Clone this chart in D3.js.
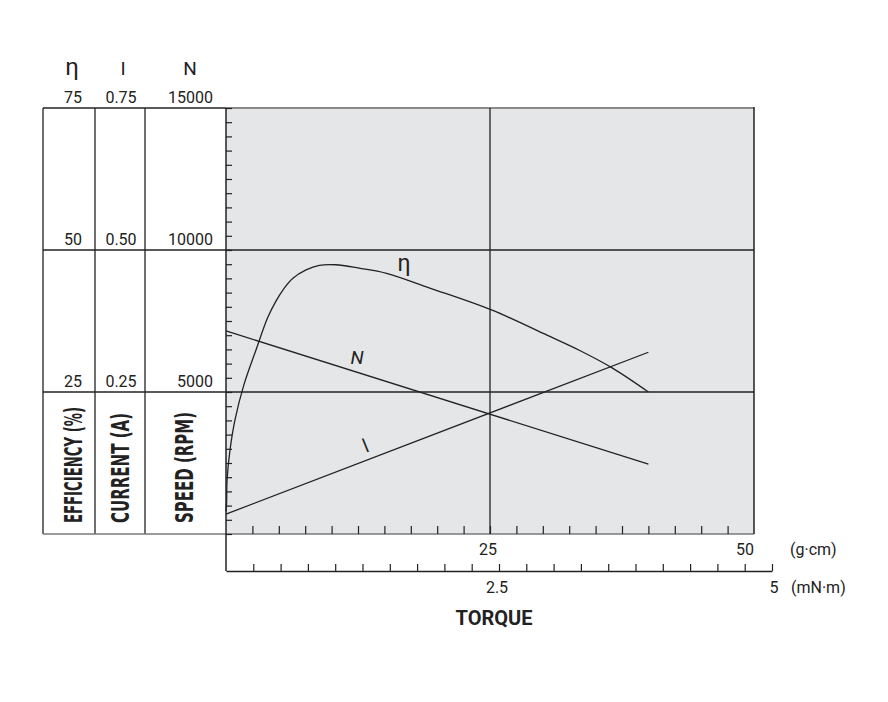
<!DOCTYPE html>
<html>
<head>
<meta charset="utf-8">
<script src="https://cdn.jsdelivr.net/npm/d3@7"></script>
<style>
  body { margin: 0; background: #fff; }
  svg { display: block; }
</style>
</head>
<body>
<svg id="chart" width="888" height="702"></svg>
<script>
// Motor characteristic curves (torque in g·cm)
const lineTorque = [0, 40];
const speedValues = [7150, 2460];      // N (rpm)
const currentValues = [0.035, 0.32];   // I (A)

const etaTorque = [0, 0.05, 0.1, 0.38, 0.85, 1.7, 2.84, 3.95, 4.73, 5.52, 6.31, 7.58, 8.84, 10.4, 12.6, 15.2, 19.3, 25.2, 30.4, 33.5, 36.6, 40];
const etaValues = [4, 5.1, 9.5, 14.8, 20.1, 26.3, 32.4, 38.1, 41.0, 43.3, 45.0, 46.5, 47.3, 47.4, 46.8, 45.9, 43.3, 39.4, 35.0, 32.3, 29.2, 25.0];

// scale labels for the left table
const etaTicks = [25, 50, 75];
const currentTicks = [0.25, 0.5, 0.75];
const speedTicks = [5000, 10000, 15000];
const gcmLabels = [25, 50];
const mnmLabels = [2.5, 5];

// Define style values
const ink = '#222';
const plotBg = '#e5e6e8';
const numFont = 'Roboto, "Liberation Sans", sans-serif';
const narrowBold = '"Liberation Sans Narrow", "DejaVu Sans Condensed", sans-serif';

const svg = d3.select('#chart');

const x = d3.scaleLinear().domain([0, 50]).range([226, 754]);
const xm = d3.scaleLinear().domain([0, 5]).range([226, 772]);
const yN = d3.scaleLinear().domain([0, 15000]).range([534, 108]);
const yEta = d3.scaleLinear().domain([0, 75]).range([534, 108]);
const yI = d3.scaleLinear().domain([0, 0.75]).range([534, 108]);

const tableLeft = 43;
const colX = [tableLeft, 95, 145];

// plot background
svg.append('rect')
  .attr('x', x(0)).attr('y', yN(15000))
  .attr('width', x(50) - x(0)).attr('height', yN(0) - yN(15000))
  .attr('fill', plotBg);

// table vertical lines
colX.forEach((cx) => {
  svg.append('line')
    .attr('x1', cx).attr('x2', cx)
    .attr('y1', yN(15000)).attr('y2', yN(0))
    .attr('stroke', ink).attr('stroke-width', 1.3);
});

// table top
svg.append('line')
  .attr('x1', tableLeft).attr('x2', x(0))
  .attr('y1', yN(15000)).attr('y2', yN(15000))
  .attr('stroke', ink).attr('stroke-width', 1.3);

// plot top (grey)
svg.append('line')
  .attr('x1', x(0)).attr('x2', x(50))
  .attr('y1', yN(15000)).attr('y2', yN(15000))
  .attr('stroke', '#8a8a8a').attr('stroke-width', 2);

// bottom line under table + plot
svg.append('line')
  .attr('x1', tableLeft).attr('x2', x(50))
  .attr('y1', yN(0)).attr('y2', yN(0))
  .attr('stroke', '#7a7a7a').attr('stroke-width', 1.6);

// horizontal rules at 5000 / 10000
[5000, 10000].forEach((v) => {
  svg.append('line')
    .attr('x1', tableLeft).attr('x2', x(50))
    .attr('y1', yN(v)).attr('y2', yN(v))
    .attr('stroke', ink).attr('stroke-width', 1.3);
});

// vertical rule at 25 g·cm
svg.append('line')
  .attr('x1', x(25)).attr('x2', x(25))
  .attr('y1', yN(15000)).attr('y2', yN(0))
  .attr('stroke', ink).attr('stroke-width', 1.3);

// right edge
svg.append('line')
  .attr('x1', x(50)).attr('x2', x(50))
  .attr('y1', yN(15000) - 1).attr('y2', yN(0))
  .attr('stroke', ink).attr('stroke-width', 1.5);

// left axis minor ticks (every 500 rpm)
const leftAxis = svg.append('g')
  .attr('transform', `translate(${x(0)},0)`)
  .call(d3.axisRight(yN).tickValues(d3.range(0, 15001, 500)).tickSize(6).tickFormat(''));
leftAxis.select('.domain').remove();
leftAxis.selectAll('line').attr('stroke', ink).attr('stroke-width', 1.2);

// g·cm ticks on plot bottom
const gAxis = svg.append('g')
  .attr('transform', `translate(0,${yN(0)})`)
  .call(d3.axisTop(x).tickValues(d3.range(2.5, 50, 2.5)).tickSize(8).tickFormat(''));
gAxis.select('.domain').remove();
gAxis.selectAll('line').attr('stroke', ink).attr('stroke-width', 1.2);

// mN·m axis below
const mAxis = svg.append('g')
  .attr('transform', 'translate(0,571)')
  .call(d3.axisTop(xm).tickValues(d3.range(0.25, 5.01, 0.25)).tickSize(7).tickSizeOuter(0).tickFormat(''));
mAxis.select('.domain').attr('stroke', ink).attr('stroke-width', 1.5);
mAxis.selectAll('line').attr('stroke', ink).attr('stroke-width', 1.2);

// left plot axis line (down to mN·m axis)
svg.append('line')
  .attr('x1', x(0)).attr('x2', x(0))
  .attr('y1', yN(15000)).attr('y2', 571)
  .attr('stroke', ink).attr('stroke-width', 1.5);

// curves
const lineGen = d3.line();
svg.append('path')
  .attr('d', lineGen(lineTorque.map((t, i) => [x(t), yN(speedValues[i])])))
  .attr('fill', 'none').attr('stroke', ink).attr('stroke-width', 1.3);
svg.append('path')
  .attr('d', lineGen(lineTorque.map((t, i) => [x(t), yI(currentValues[i])])))
  .attr('fill', 'none').attr('stroke', ink).attr('stroke-width', 1.3);
svg.append('path')
  .attr('d', d3.line().curve(d3.curveCatmullRom.alpha(0.5))(etaTorque.map((t, i) => [x(t), yEta(etaValues[i])])))
  .attr('fill', 'none').attr('stroke', ink).attr('stroke-width', 1.3);

// curve labels
svg.append('text').text('η')
  .attr('x', 404).attr('y', 271)
  .attr('text-anchor', 'middle')
  .attr('font-family', numFont).attr('font-size', 23).attr('fill', ink);
svg.append('text').text('N')
  .attr('x', 357).attr('y', 364)
  .attr('text-anchor', 'middle')
  .attr('font-family', numFont).attr('font-size', 19).attr('font-style', 'italic').attr('fill', ink);
svg.append('text').text('I')
  .attr('transform', 'translate(368,452) skewX(22)')
  .attr('text-anchor', 'middle')
  .attr('font-family', numFont).attr('font-size', 19).attr('fill', ink);

// header symbols
[['η', 72, 24], ['I', 123, 19], ['N', 190, 19]].forEach(([s, cx, fs]) => {
  svg.append('text').text(s)
    .attr('x', cx).attr('y', 75)
    .attr('text-anchor', 'middle')
    .attr('font-family', numFont).attr('font-size', fs).attr('fill', ink);
});

// table scale numbers
const numText = (txt, px, py, anchor) =>
  svg.append('text').text(txt)
    .attr('x', px).attr('y', py)
    .attr('text-anchor', anchor)
    .attr('font-family', numFont).attr('font-size', 16).attr('fill', ink);

speedTicks.forEach((v, i) => {
  const py = yN(v) - 5;
  numText(etaTicks[i], 73, py, 'middle');
  numText(currentTicks[i].toFixed(2), 121, py, 'middle');
  numText(v, 213, py, 'end');
});

// rotated column titles
[['EFFICIENCY (%)', 82, 116], ['CURRENT (A)', 129, 110], ['SPEED (RPM)', 193, 111]].forEach(([t, bx, len]) => {
  svg.append('text').text(t)
    .attr('transform', `translate(${bx},523) rotate(-90)`)
    .attr('textLength', len).attr('lengthAdjust', 'spacingAndGlyphs')
    .attr('font-family', narrowBold).attr('font-weight', 'bold')
    .attr('font-size', 24).attr('fill', ink);
});

// torque labels
gcmLabels.forEach((v) => {
  numText(v, v === 50 ? x(v) : x(v) - 2, 555, v === 50 ? 'end' : 'middle');
});
mnmLabels.forEach((v) => {
  numText(v, xm(v) + (v === 5 ? 2 : -2), 593, 'middle');
});
numText('(g·cm)', 790, 555, 'start');
numText('(mN·m)', 791, 593, 'start');

svg.append('text').text('TORQUE')
  .attr('x', 494).attr('y', 625)
  .attr('text-anchor', 'middle')
  .attr('font-family', numFont).attr('font-weight', 'bold')
  .attr('font-size', 20).attr('fill', ink);
</script>
</body>
</html>
